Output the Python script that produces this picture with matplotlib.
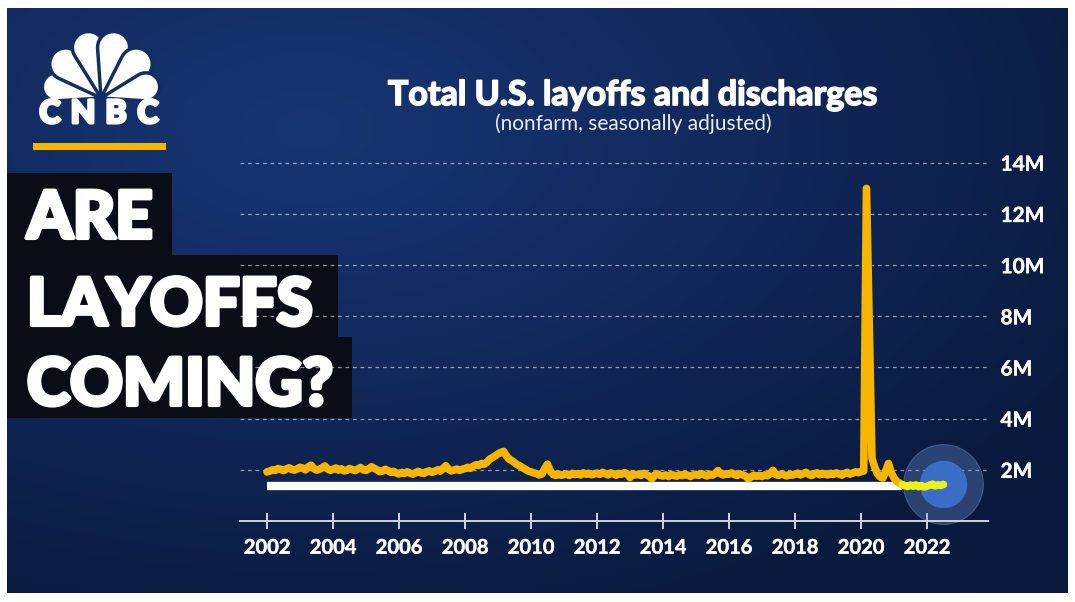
import numpy as np
import matplotlib.pyplot as plt
import matplotlib.patheffects as pe
from matplotlib.patches import Polygon, Rectangle
from matplotlib.colors import LinearSegmentedColormap

plt.rcParams['font.family'] = ['Lato', 'DejaVu Sans']

# Monthly layoffs and discharges, millions
y2002 = [1.92, 1.95, 2.00, 1.98, 2.05, 2.02, 1.97, 2.03, 2.08, 2.01, 1.99, 2.04]
y2003 = [2.10, 2.06, 2.00, 2.12, 2.18, 2.05, 1.99, 2.02, 2.08, 2.15, 2.04, 1.98]
y2004 = [2.02, 2.07, 1.99, 2.04, 1.96, 1.98, 2.05, 2.01, 1.97, 2.03, 2.09, 2.00]
y2005 = [1.98, 2.04, 2.12, 2.06, 2.00, 1.93, 1.95, 2.02, 1.97, 1.90, 1.94, 1.88]
y2006 = [1.84, 1.90, 1.86, 1.92, 1.87, 1.83, 1.89, 1.94, 1.88, 1.86, 1.92, 1.96]
y2007 = [1.90, 1.94, 2.00, 1.95, 2.05, 2.16, 2.02, 1.96, 1.99, 2.03, 1.98, 2.02]
y2008 = [2.05, 2.10, 2.06, 2.14, 2.20, 2.17, 2.25, 2.22, 2.30, 2.42, 2.48, 2.55]
y2009 = [2.62, 2.68, 2.72, 2.55, 2.42, 2.36, 2.28, 2.20, 2.15, 2.08, 2.02, 1.95]
y2010 = [1.92, 1.88, 1.85, 1.80, 1.84, 2.05, 2.22, 1.95, 1.82, 1.78, 1.83, 1.79]
y2011 = [1.81, 1.84, 1.78, 1.86, 1.82, 1.85, 1.80, 1.88, 1.83, 1.86, 1.81, 1.84]
y2012 = [1.87, 1.82, 1.90, 1.85, 1.80, 1.88, 1.84, 1.79, 1.86, 1.83, 1.89, 1.84]
y2013 = [1.70, 1.85, 1.80, 1.83, 1.78, 1.86, 1.81, 1.75, 1.65, 1.80, 1.84, 1.78]
y2014 = [1.76, 1.80, 1.74, 1.82, 1.78, 1.75, 1.81, 1.77, 1.83, 1.79, 1.74, 1.80]
y2015 = [1.82, 1.78, 1.85, 1.80, 1.76, 1.83, 1.79, 1.86, 1.97, 1.84, 1.80, 1.85]
y2016 = [1.83, 1.88, 1.81, 1.78, 1.84, 1.80, 1.76, 1.65, 1.72, 1.79, 1.75, 1.78]
y2017 = [1.74, 1.80, 1.77, 1.85, 1.98, 1.82, 1.78, 1.84, 1.80, 1.76, 1.82, 1.79]
y2018 = [1.83, 1.87, 1.80, 1.85, 1.90, 1.82, 1.78, 1.84, 1.88, 1.81, 1.86, 1.83]
y2019 = [1.80, 1.86, 1.82, 1.88, 1.84, 1.79, 1.85, 1.90, 1.83, 1.87, 1.92, 1.89]
y2020 = [1.93, 1.95, 13.0, 7.70, 2.45, 2.10, 1.85, 1.72, 1.68, 1.95, 2.25, 1.90]
y2021 = [1.68, 1.55, 1.48, 1.42, 1.38, 1.35, 1.40, 1.36, 1.41, 1.34, 1.38, 1.33]
y2022 = [1.36, 1.40, 1.44, 1.37, 1.41, 1.39, 1.43]

series = [y2002, y2003, y2004, y2005, y2006, y2007, y2008, y2009, y2010, y2011,
          y2012, y2013, y2014, y2015, y2016, y2017, y2018, y2019, y2020, y2021, y2022]
start_year = 2002
highlight_from = (2021, 4)   # recent stretch drawn in bright yellow
ref_level = 1.37             # white reference bar, millions

x_ticks = list(range(2002, 2023, 2))
y_ticks = [2, 4, 6, 8, 10, 12, 14]
y_labels = ['2M', '4M', '6M', '8M', '10M', '12M', '14M']

dates, values = [], []
for i, vals in enumerate(series):
    for m, v in enumerate(vals):
        dates.append(start_year + i + m / 12)
        values.append(v)
dates = np.array(dates)
values = np.array(values)
hi = (highlight_from[0] - start_year) * 12 + highlight_from[1] - 1

W, H = 1075, 602
fig = plt.figure(figsize=(W / 100, H / 100), dpi=100)
fig.patch.set_facecolor('white')

# background gradient
bg = fig.add_axes([7 / W, 9 / H, 1061 / W, 585 / H])
gx, gy = np.meshgrid(np.linspace(0, 1061, 400), np.linspace(0, 585, 240))
d = np.sqrt(((gx - 300) / 900) ** 2 + ((gy - 120) / 520) ** 2)
bg_cmap = LinearSegmentedColormap.from_list('bg', ['#173674', '#11285a', '#0a1a3e'])
bg.imshow(np.clip(d, 0, 1), cmap=bg_cmap, aspect='auto', interpolation='bilinear')
bg.axis('off')

# decoration layer in pixel coords
deco = fig.add_axes([0, 0, 1, 1])
deco.set_xlim(0, W)
deco.set_ylim(H, 0)
deco.axis('off')
deco.patch.set_alpha(0)


def feather(base, ang, D, R):
    a = np.radians(ang)
    cx, cy = base[0] + D * np.cos(a), base[1] - D * np.sin(a)
    g = np.arccos(R / D)
    th = np.linspace(a + (np.pi - g), a - (np.pi - g), 50)
    pts = [base] + [(cx + R * np.cos(t), cy - R * np.sin(t)) for t in th]
    deco.add_patch(Polygon(pts, closed=True, fc='white', ec='#142e63', lw=2.5))


base = (101, 98)
for ang, D, R in [(166, 46, 14), (136, 49, 16), (104, 52, 16),
                  (76, 52, 16), (44, 49, 16), (14, 46, 14)]:
    feather(base, ang, D, R)

heavy = [pe.withStroke(linewidth=2.2, foreground='white')]
for ch, cx in zip('CNBC', [50, 83, 116, 148]):
    deco.text(cx, 123, ch, ha='center', va='baseline', fontsize=23,
              fontweight='black', color='white', path_effects=heavy)
deco.add_patch(Rectangle((33, 143), 133, 7, fc='#f2b705', ec='none'))

# headline boxes
box_c = '#0a0c16'
deco.add_patch(Rectangle((7, 173), 165, 86, fc=box_c, ec='none'))
deco.add_patch(Rectangle((7, 255), 331, 85, fc=box_c, ec='none'))
deco.add_patch(Rectangle((7, 337), 345, 81, fc=box_c, ec='none'))
for txt, yb in [('ARE', 238), ('LAYOFFS', 325), ('COMING?', 405)]:
    deco.text(27, yb, txt, ha='left', va='baseline', fontsize=47,
              fontweight='black', color='white',
              path_effects=[pe.withStroke(linewidth=3, foreground='white')])

deco.text(633, 95, 'Total U.S. layoffs and discharges', ha='center', va='center',
          fontsize=24.5, fontweight='bold', color='white',
          path_effects=[pe.withStroke(linewidth=1.2, foreground='white')])
deco.text(633, 124, '(nonfarm, seasonally adjusted)', ha='center', va='center',
          fontsize=15, color='#e8ecf5')

# chart
ax = fig.add_axes([240 / W, 1 - 521 / H, 748 / W, (521 - 150) / H])
ax.patch.set_alpha(0)
ax.set_xlim(2001.18, 2023.85)
ax.set_ylim(0, 14.5)

ax.hlines(ref_level, dates[0], dates[hi], color='white', lw=6, zorder=3)
ax.plot(dates[:hi + 1], values[:hi + 1], color='#f7b500', lw=5.5,
        solid_joinstyle='round', solid_capstyle='round', zorder=5)

ax.scatter([dates[-1]], [values[-1]], s=3300, color='#6a8fd0', alpha=0.35,
           edgecolors='#8aa6d8', linewidths=0.8, zorder=2, clip_on=False)
ax.scatter([dates[-1]], [values[-1]], s=1100, color='#3b6cc6', zorder=4, clip_on=False)
ax.plot(dates[hi:], values[hi:], color='#ecf01c', lw=5.5,
        solid_joinstyle='round', solid_capstyle='round', zorder=6)

ax.set_yticks(y_ticks)
ax.set_yticklabels(y_labels)
ax.yaxis.tick_right()
ax.grid(axis='y', color='white', alpha=0.55, lw=0.9, ls=(0, (3, 3)))
ax.set_xticks(x_ticks)
ax.set_xticklabels([str(t) for t in x_ticks])
ax.tick_params(axis='y', length=0, pad=9, labelsize=15, labelcolor='white')
ax.tick_params(axis='x', direction='inout', length=12, width=1.4, color='#d0d4de',
               pad=6, labelsize=14.5, labelcolor='white')
for lab in ax.get_xticklabels() + ax.get_yticklabels():
    lab.set_fontweight('bold')
    lab.set_path_effects([pe.withStroke(linewidth=0.3, foreground='white')])
for s in ['top', 'left', 'right']:
    ax.spines[s].set_visible(False)
ax.spines['bottom'].set_color('#d0d4de')
ax.spines['bottom'].set_linewidth(1.4)

fig.savefig('out.png', dpi=100)
